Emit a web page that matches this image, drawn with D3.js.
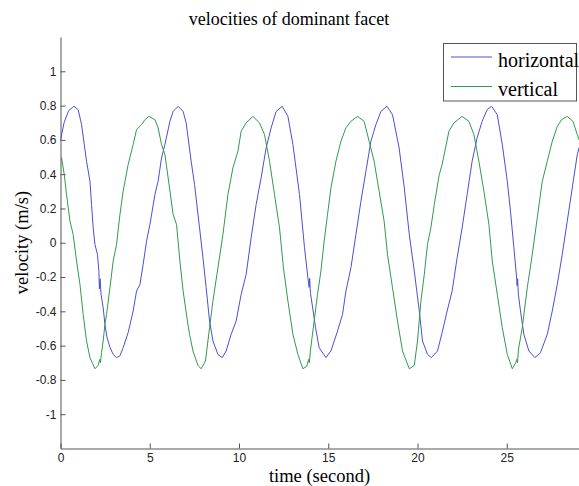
<!DOCTYPE html>
<html>
<head>
<meta charset="utf-8">
<script src="https://cdn.jsdelivr.net/npm/d3@7"></script>
<style>
  body { margin: 0; background: #fff; }
  svg { display: block; }
</style>
</head>
<body>
<svg width="579" height="486"></svg>
<script>
// values: [time (s), velocity (m/s)]
var horizontal = [
  [0,0.60],[0.2,0.70],[0.45,0.77],[0.75,0.796],[0.99,0.776],[1.18,0.689],[1.46,0.475],[1.65,0.359],
  [1.74,0.223],[1.83,0.087],[1.93,-0.01],[2.07,-0.068],[2.15,-0.165],[2.18,-0.27],[2.22,-0.21],[2.27,-0.30],
  [2.39,-0.379],[2.49,-0.476],[2.6,-0.55],[2.77,-0.61],[2.95,-0.651],[3.14,-0.67],[3.33,-0.66],[3.51,-0.612],
  [3.79,-0.524],[4.07,-0.398],[4.26,-0.282],[4.45,-0.243],[4.63,-0.126],[4.82,0.009],[5.01,0.107],[5.29,0.281],
  [5.47,0.359],[5.66,0.495],[5.85,0.573],[6.13,0.708],[6.31,0.766],[6.59,0.796],[6.87,0.766],[7.04,0.699],
  [7.32,0.475],[7.51,0.34],[7.79,0.087],[7.98,-0.087],[8.16,-0.262],[8.35,-0.457],[8.54,-0.573],[8.82,-0.651],
  [9.06,-0.67],[9.28,-0.631],[9.56,-0.534],[9.84,-0.457],[10.12,-0.301],[10.40,-0.185],[10.68,0.029],[10.96,0.223],
  [11.24,0.379],[11.52,0.553],[11.80,0.67],[12.08,0.766],[12.42,0.796],[12.74,0.737],[13.02,0.573],[13.39,0.281],
  [13.67,-0.029],[13.86,-0.204],[13.93,-0.26],[13.96,-0.208],[14.0,-0.29],[14.29,-0.495],[14.49,-0.612],[14.87,-0.67],
  [15.15,-0.631],[15.52,-0.515],[15.80,-0.418],[15.99,-0.282],[16.27,-0.146],[16.55,0.048],[16.83,0.242],[17.11,0.417],
  [17.39,0.592],[17.67,0.689],[17.95,0.766],[18.29,0.796],[18.60,0.747],[18.97,0.553],[19.26,0.32],[19.54,0.048],
  [19.82,-0.165],[20.10,-0.398],[20.28,-0.573],[20.56,-0.651],[20.78,-0.67],[21.12,-0.631],[21.38,-0.524],[21.66,-0.398],
  [21.94,-0.282],[22.22,-0.087],[22.50,0.087],[22.78,0.281],[23.06,0.475],[23.34,0.612],[23.62,0.708],[23.90,0.776],
  [24.15,0.796],[24.47,0.747],[24.75,0.573],[25.03,0.359],[25.21,0.184],[25.40,-0.029],[25.55,-0.20],[25.58,-0.25],
  [25.61,-0.21],[25.65,-0.30],[25.77,-0.398],[25.96,-0.534],[26.24,-0.631],[26.58,-0.67],[26.89,-0.641],[27.27,-0.534],
  [27.55,-0.398],[27.83,-0.243],[28.11,-0.068],[28.39,0.126],[28.67,0.32],[28.95,0.514],[29.1,0.57]
];

var vertical = [
  [0,0.49],[0.06,0.495],[0.21,0.398],[0.34,0.281],[0.53,0.126],[0.71,0.048],[0.90,-0.107],[1.09,-0.243],
  [1.27,-0.418],[1.46,-0.573],[1.65,-0.67],[1.93,-0.735],[2.11,-0.715],[2.2,-0.68],[2.24,-0.70],[2.30,-0.64],
  [2.39,-0.573],[2.49,-0.476],[2.58,-0.418],[2.77,-0.262],[2.95,-0.107],[3.14,-0.01],[3.33,0.165],[3.51,0.301],
  [3.79,0.456],[4.07,0.573],[4.26,0.66],[4.54,0.689],[4.73,0.718],[4.95,0.737],[5.29,0.718],[5.47,0.67],
  [5.66,0.573],[5.85,0.514],[6.03,0.379],[6.31,0.165],[6.50,0.107],[6.69,-0.107],[6.87,-0.282],[7.11,-0.457],
  [7.23,-0.534],[7.42,-0.631],[7.70,-0.715],[7.88,-0.735],[8.12,-0.69],[8.35,-0.495],[8.54,-0.34],[8.82,-0.146],
  [9.10,0.048],[9.38,0.281],[9.66,0.437],[9.94,0.534],[10.12,0.65],[10.40,0.699],[10.78,0.737],[11.15,0.699],
  [11.43,0.631],[11.71,0.475],[11.99,0.281],[12.27,0.087],[12.49,-0.146],[12.74,-0.34],[13.02,-0.534],[13.30,-0.651],
  [13.58,-0.735],[13.80,-0.72],[13.9,-0.68],[13.94,-0.70],[14.0,-0.63],[14.21,-0.457],[14.40,-0.301],[14.59,-0.165],
  [14.77,0.009],[14.96,0.165],[15.15,0.32],[15.43,0.475],[15.71,0.592],[15.99,0.67],[16.27,0.708],[16.64,0.737],
  [17.01,0.708],[17.29,0.592],[17.57,0.475],[17.85,0.301],[18.13,0.126],[18.32,-0.068],[18.60,-0.262],[18.88,-0.457],
  [19.16,-0.631],[19.54,-0.735],[19.82,-0.715],[20.00,-0.573],[20.19,-0.34],[20.38,-0.185],[20.56,-0.01],[20.75,0.087],
  [20.94,0.223],[21.22,0.398],[21.38,0.456],[21.57,0.553],[21.76,0.65],[22.04,0.699],[22.50,0.737],[22.88,0.708],
  [23.16,0.631],[23.44,0.475],[23.72,0.301],[24.00,0.107],[24.19,-0.107],[24.47,-0.301],[24.75,-0.495],[25.03,-0.651],
  [25.31,-0.735],[25.5,-0.70],[25.56,-0.68],[25.6,-0.70],[25.66,-0.62],[25.87,-0.495],[26.15,-0.262],[26.43,-0.068],
  [26.71,0.146],[26.99,0.359],[27.27,0.475],[27.55,0.592],[27.83,0.679],[28.07,0.718],[28.39,0.737],[28.71,0.708],
  [28.95,0.631],[29.1,0.59]
];

var seriesNames = ["horizontal", "vertical"];
var xTicks = [0, 5, 10, 15, 20, 25];
var yTicks = [-1, -0.8, -0.6, -0.4, -0.2, 0, 0.2, 0.4, 0.6, 0.8, 1];
var yTickLabels = ["-1", "-0.8", "-0.6", "-0.4", "-0.2", "0", "0.2", "0.4", "0.6", "0.8", "1"];

(function() {
  var svg = d3.select("svg");
  var colors = ["#4e4ed2", "#2f9a4e"];
  var serif = "'Liberation Serif', 'DejaVu Serif', serif";
  var sans = "'Liberation Sans', Arial, sans-serif";

  var m = { left: 60.5, right: 596, top: 37, bottom: 448.5 };

  var x = d3.scaleLinear().domain([0, 30]).range([m.left, m.right]);
  var y = d3.scaleLinear().domain([-1.2, 1.2]).range([m.bottom, m.top]);

  svg.append("defs").append("clipPath").attr("id", "plotclip")
    .append("rect")
      .attr("x", m.left).attr("y", m.top)
      .attr("width", m.right - m.left).attr("height", m.bottom - m.top);

  var line = d3.line()
    .x(function(d) { return x(d[0]); })
    .y(function(d) { return y(d[1]); });

  var plot = svg.append("g").attr("clip-path", "url(#plotclip)");
  [horizontal, vertical].forEach(function(s, i) {
    plot.append("path")
      .datum(s)
      .attr("d", line)
      .attr("fill", "none")
      .attr("stroke", colors[i])
      .attr("stroke-width", 1)
      .attr("stroke-linejoin", "round");
  });

  // axes, ticks pointing inward like matlab
  var xAxis = svg.append("g")
    .attr("transform", "translate(0," + m.bottom + ")")
    .call(d3.axisBottom(x).tickValues(xTicks).tickSize(-5).tickSizeOuter(0).tickPadding(5));
  var yAxis = svg.append("g")
    .attr("transform", "translate(" + m.left + ",0)")
    .call(d3.axisLeft(y).tickValues(yTicks).tickSize(-5).tickSizeOuter(0).tickPadding(4)
      .tickFormat(function(d, i) { return yTickLabels[i]; }));

  [xAxis, yAxis].forEach(function(a) {
    a.selectAll("path, line").attr("stroke", "#555");
    a.selectAll("text").attr("fill", "#222").style("font-family", sans).style("font-size", "12px");
  });

  svg.append("text")
    .attr("x", 289).attr("y", 25)
    .attr("text-anchor", "middle")
    .style("font-family", serif).style("font-size", "18px")
    .text("velocities of dominant facet");

  svg.append("text")
    .attr("x", 319.5).attr("y", 482)
    .attr("text-anchor", "middle")
    .style("font-family", serif).style("font-size", "18.5px")
    .text("time (second)");

  svg.append("text")
    .attr("transform", "translate(28,242.5) rotate(-90)")
    .attr("text-anchor", "middle")
    .style("font-family", serif).style("font-size", "18.5px")
    .text("velocity (m/s)");

  // legend
  var legend = svg.append("g");
  legend.append("rect")
    .attr("x", 443.5).attr("y", 43.5)
    .attr("width", 133).attr("height", 57.5)
    .attr("fill", "#fff").attr("stroke", "#555");

  var legendRows = [57, 86.5];
  seriesNames.forEach(function(name, i) {
    legend.append("line")
      .attr("x1", 451).attr("x2", 492)
      .attr("y1", legendRows[i]).attr("y2", legendRows[i])
      .attr("stroke", colors[i]);
    legend.append("text")
      .attr("x", 498).attr("y", legendRows[i] + 9.5)
      .style("font-family", serif).style("font-size", "20px")
      .text(name);
  });
})();
</script>
</body>
</html>
